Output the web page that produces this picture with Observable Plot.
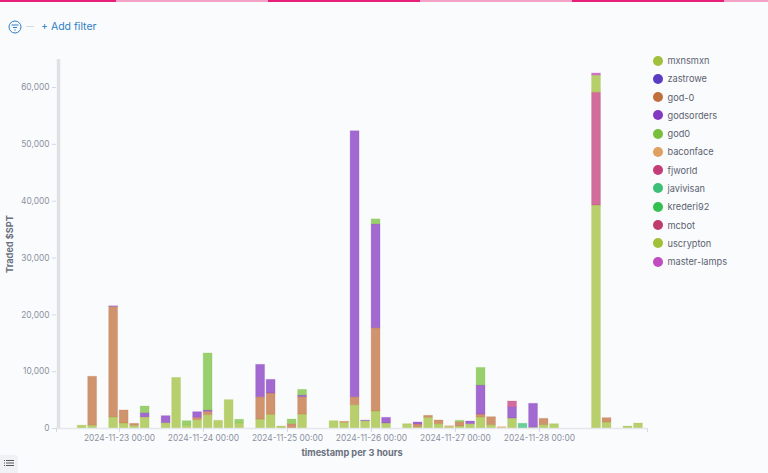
<!DOCTYPE html>
<html><head><meta charset="utf-8">
<script src="https://cdn.jsdelivr.net/npm/d3@7"></script>
<script src="https://cdn.jsdelivr.net/npm/@observablehq/plot@0.6"></script>
<style>
html,body{margin:0;padding:0;background:#fafbfd;width:768px;height:473px;overflow:hidden;font-family:Inter,sans-serif}
#chart{position:absolute;left:0;top:0}
.seg{position:absolute;top:0;height:2px}
#filter{position:absolute;left:41px;top:20px;font-size:10.5px;line-height:14px;color:#2f7fc4}
#dash{position:absolute;left:26px;top:26px;width:8px;height:1px;background:#d3dae6}
#icon{position:absolute;left:8px;top:20px}
#legend{position:absolute;left:653px;top:51.5px;font-size:9.2px;color:#5a6270}
.li{height:18.27px;display:flex;align-items:center}
.li i{display:block;width:10px;height:10px;border-radius:50%;margin-right:4.5px}
#toggle{position:absolute;left:0;top:455px;width:18px;height:18px;background:#eff1f5;border-radius:0 3px 0 0}
svg text, svg g{font-variant:normal !important}
</style></head><body>
<div id="chart"></div>
<svg id="icon" width="14" height="14" viewBox="0 0 14 14" fill="none" stroke="#2f7fc4"><circle cx="7" cy="7" r="6"/><path d="M3.5 5h7M5 7.5h4M6.3 10h1.4"/></svg>
<div id="dash"></div>
<div id="filter">+ Add filter</div>
<div id="legend"></div>
<div id="toggle"><svg width="18" height="18" fill="none" stroke="#55585f"><path d="M4 5.5h1M4 8h1M4 10.5h1M6 5.5h8M6 8h8M6 10.5h8"/></svg></div>
<script>
const names = ["mxnsmxn","zastrowe","god-0","godsorders","god0","baconface","fjworld","javivisan","krederi92","mcbot","uscrypton","master-lamps"];
const colors = ["#a1c03c","#5c3cc4","#c0703c","#8438c0","#78c03c","#e0a060","#c43c78","#3cc078","#34c050","#c03c6c","#a0c038","#c04cc0"];
const binCount = 56;
const firstBin = "2024-11-22T06:00:00Z";
const mxnsmxn = [0,0,500,500,0,1950,880,470,1950,0,940,8900,500,1470,2350,1350,4990,880,0,1580,2400,350,0,2460,0,0,1290,1000,4100,1290,2990,880,0,760,180,1880,760,240,350,760,1940,590,0,1760,0,120,590,760,0,0,0,39240,1050,0,350,880];
const god_0 = {3:8600,5:19450,6:2290,7:350,13:410,14:580,19:3930,20:3760,22:760,23:3050,27:170,28:1410,30:14660,34:520,35:350,36:650,38:760,40:520,41:1400,46:1110,52:770};
const godsorders = {5:100,8:750,10:1230,13:990,14:240,19:5690,20:2400,23:290,28:46790,29:110,30:18250,31:1000,34:360,39:470,40:5100,43:1990,45:4220};
const god0 = {8:1170,12:790,14:10030,17:650,22:820,23:1000,30:900,38:240,40:3100};
const baconface = {37:170,42:240};
const fjworld = {43:1000,51:19860};
const javivisan = {44:830};
const uscrypton = {51:3000};
const masterLamps = {51:370};
const yTicks = [0,10000,20000,30000,40000,50000,60000];
const dayTicks = ["2024-11-23","2024-11-24","2024-11-25","2024-11-26","2024-11-27","2024-11-28"];

const valuesBySeries = {"mxnsmxn":Object.fromEntries(mxnsmxn.map((v,i)=>[i,v])),"god-0":god_0,"godsorders":godsorders,"god0":god0,"baconface":baconface,"fjworld":fjworld,"javivisan":javivisan,"uscrypton":uscrypton,"master-lamps":masterLamps};
const t0 = new Date(firstBin);
const tEnd = new Date(+t0 + (binCount+0.3)*3*3600e3);
const rows = [];
for (const [series, vals] of Object.entries(valuesBySeries)) for (const [i,v] of Object.entries(vals)) if (v>0) {
  const start = d3.utcHour.offset(t0, 3*+i);
  rows.push({series, value:v, start, end:d3.utcHour.offset(start,3)});
}
const tickColor = "#d3dae6", textColor = "#8b92a0";
const plot = Plot.plot({
  width:768, height:473, marginLeft:56, marginRight:121, marginTop:59, marginBottom:45,
  style:{background:"transparent",fontFamily:"Inter, sans-serif",fontSize:"8.4px"},
  x:{type:"utc",domain:[t0,tEnd],axis:null},
  y:{domain:[0,64930],axis:null},
  color:{domain:names,range:colors},
  marks:[
    Plot.rect(rows,Plot.stackY({x:"start",x1:"start",x2:"end",y:"value",z:"series",order:names,fill:"series",fillOpacity:.75,stroke:"series",strokeOpacity:.2,strokeWidth:1,insetLeft:.2,insetRight:1.4})),
    Plot.ruleX([t0],{stroke:"#dfe1e4",strokeWidth:3.5,dx:2}),
    Plot.ruleY([0],{stroke:"#e4e7ec",strokeWidth:1.5}),
    Plot.axisX({ticks:[t0,...dayTicks.map(d=>new Date(d+"T00:00:00Z")),tEnd],tickSize:4,stroke:tickColor,color:textColor,tickPadding:2.5,
      tickFormat:d=>dayTicks.includes(d3.utcFormat("%Y-%m-%d")(d))?d3.utcFormat("%Y-%m-%d %H:%M")(d):"",
      label:"timestamp per 3 hours",labelAnchor:"center",labelArrow:"none",labelOffset:27}),
    Plot.axisY({ticks:yTicks,tickSize:4,stroke:tickColor,color:textColor,tickPadding:3,tickFormat:d3.format(","),
      label:"Traded $SPT",labelAnchor:"center",labelArrow:"none",labelOffset:50})
  ]
});
// axis titles are bold and darker, as in the reference
plot.querySelectorAll("g[aria-label='x-axis label'] text, g[aria-label='y-axis label'] text").forEach(t=>{t.style.fontWeight="700";t.style.fontSize="9.2px";t.setAttribute("fill","#69707d");});
document.getElementById("chart").append(plot);

const segs = [[0,116,"#e8207c"],[116,152,"#f4a3c8"],[268,152,"#e8207c"],[420,152,"#f4a3c8"],[572,152,"#e8207c"],[724,44,"#f4a3c8"]];
for (const [l,w,c] of segs){const d=document.createElement("div");d.className="seg";d.style.cssText=`left:${l}px;width:${w}px;background:${c}`;document.body.append(d);}
const lg=document.getElementById("legend");
names.forEach((n,i)=>{const r=document.createElement("div");r.className="li";const dot=document.createElement("i");dot.style.background=colors[i];r.append(dot,n);lg.append(r);});
</script></body></html>
